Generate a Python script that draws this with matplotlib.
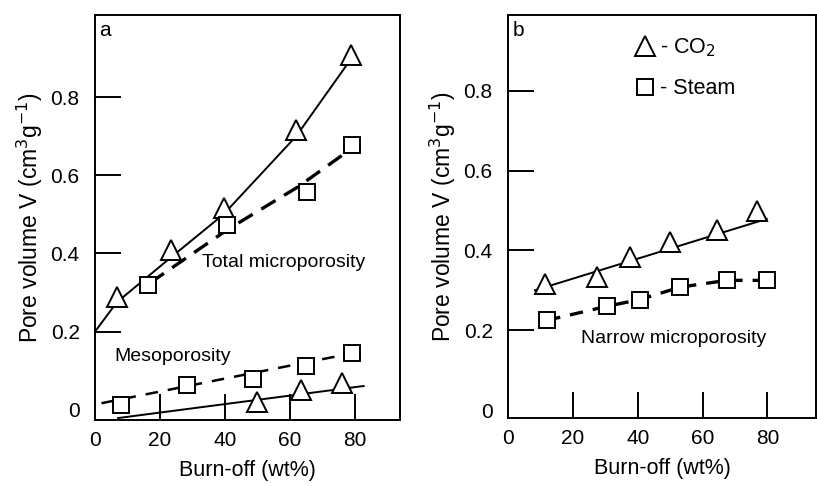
import matplotlib.pyplot as plt
from matplotlib.lines import Line2D

plt.rcParams['font.family'] = ['Liberation Sans', 'DejaVu Sans']

# ---- panel a : total microporosity / mesoporosity ----
a_tot_co2_x = [6.7, 23.4, 39.6, 62.0, 78.8]
a_tot_co2_y = [0.289, 0.41, 0.516, 0.716, 0.908]
a_tot_co2_fit_x = [0, 6.7, 23.4, 39.6, 62.0, 78.0]
a_tot_co2_fit_y = [0.20, 0.275, 0.39, 0.50, 0.70, 0.887]

a_tot_steam_x = [16.3, 40.6, 65.2, 79.3]
a_tot_steam_y = [0.32, 0.473, 0.558, 0.678]
a_tot_steam_fit_x = [17, 41, 62.5, 79]
a_tot_steam_fit_y = [0.325, 0.462, 0.57, 0.668]

a_meso_steam_x = [8.1, 28.4, 48.8, 65.0, 79.3]
a_meso_steam_y = [0.013, 0.064, 0.078, 0.111, 0.145]
a_meso_steam_fit_x = [2, 80]
a_meso_steam_fit_y = [0.017, 0.146]

a_meso_co2_x = [49.8, 63.5, 76.2]
a_meso_co2_y = [0.021, 0.051, 0.068]
a_meso_co2_fit_x = [7.1, 82.8]
a_meso_co2_fit_y = [-0.021, 0.061]

# ---- panel b : narrow microporosity ----
b_co2_x = [11.4, 27.4, 37.7, 50.0, 64.4, 76.8]
b_co2_y = [0.317, 0.333, 0.383, 0.42, 0.45, 0.50]
b_co2_fit_x = [8.3, 79.8]
b_co2_fit_y = [0.30, 0.479]

b_steam_x = [12.1, 30.5, 40.7, 53.1, 67.5, 80.0]
b_steam_y = [0.225, 0.26, 0.277, 0.308, 0.325, 0.325]

xticks = [0, 20, 40, 60, 80]
yticks = [0, 0.2, 0.4, 0.6, 0.8]
yticklabels = ['0', '0.2', '0.4', '0.6', '0.8']

fig = plt.figure(figsize=(8.17, 4.86), dpi=100)
ax1 = fig.add_axes([0.1163, 0.1358, 0.3733, 0.8333])
ax2 = fig.add_axes([0.6218, 0.1399, 0.3770, 0.8292])

tri = dict(marker='^', ms=14.5, mfc='white', mec='black', mew=1.4, ls='none')
sq = dict(marker='s', ms=11, mfc='white', mec='black', mew=1.4, ls='none')


def style(ax, xmax, ylim):
    ax.set_xlim(0, xmax)
    ax.set_ylim(*ylim)
    ax.set_xticks(xticks)
    ax.set_yticks(yticks)
    ax.set_yticklabels(yticklabels)
    ax.tick_params(direction='in', length=19, width=1.4, labelsize=15)
    ax.tick_params(axis='y', pad=11)
    ax.tick_params(axis='x', pad=8)
    ax.xaxis.get_major_ticks()[0].tick1line.set_visible(False)
    ax.yaxis.get_major_ticks()[0].tick1line.set_visible(False)
    for s in ax.spines.values():
        s.set_linewidth(1.4)
    ax.set_xlabel('Burn-off (wt%)', fontsize=15.5, labelpad=7)
    ax.set_ylabel('Pore volume V (cm$^3$g$^{-1}$)', fontsize=16.5, labelpad=4)


# panel a
ax1.plot(a_tot_co2_fit_x, a_tot_co2_fit_y, color='black', lw=1.4)
ax1.plot(a_tot_steam_fit_x, a_tot_steam_fit_y, color='black', lw=2.4, dashes=(5, 3))
ax1.plot(a_meso_steam_fit_x, a_meso_steam_fit_y, color='black', lw=1.8, dashes=(5, 4))
ax1.plot(a_meso_co2_fit_x, a_meso_co2_fit_y, color='black', lw=1.4)
ax1.plot(a_tot_co2_x, a_tot_co2_y, **tri)
ax1.plot(a_tot_steam_x, a_tot_steam_y, **sq)
ax1.plot(a_meso_co2_x, a_meso_co2_y, **tri)
ax1.plot(a_meso_steam_x, a_meso_steam_y, **sq)
style(ax1, 94, (-0.026, 1.01))
ax1.text(0.015, 0.985, 'a', transform=ax1.transAxes, fontsize=15, va='top')
ax1.text(58, 0.376, 'Total microporosity', fontsize=14, ha='center', va='center')
ax1.text(24, 0.136, 'Mesoporosity', fontsize=14, ha='center', va='center')

# panel b
ax2.plot(b_co2_fit_x, b_co2_fit_y, color='black', lw=1.4)
ax2.plot(b_steam_x, b_steam_y, color='black', lw=2.4, dashes=(4, 3))
ax2.plot(b_co2_x, b_co2_y, **tri)
ax2.plot(b_steam_x, b_steam_y, **sq)
style(ax2, 95, (-0.02, 0.99))
ax2.text(0.015, 0.985, 'b', transform=ax2.transAxes, fontsize=15, va='top')
ax2.text(51, 0.18, 'Narrow microporosity', fontsize=14, ha='center', va='center')

handles = [Line2D([], [], **tri), Line2D([], [], **sq)]
ax2.legend(handles, ['- CO$_2$', '- Steam'], loc='upper left',
           bbox_to_anchor=(0.355, 0.995), frameon=False, fontsize=15.5,
           handlelength=0.8, handletextpad=0.3, labelspacing=0.9)

fig.savefig('out.png', dpi=100)
